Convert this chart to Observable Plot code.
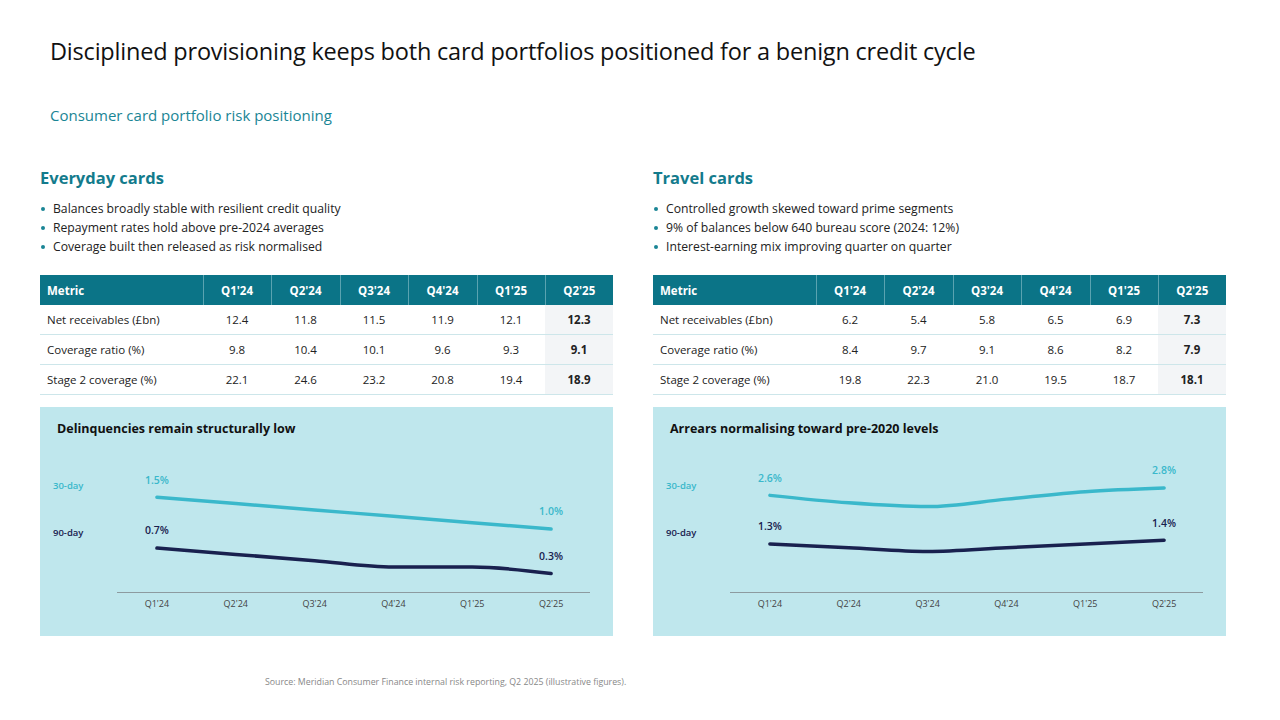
<!DOCTYPE html>
<html>
<head>
<meta charset="utf-8">
<script src="https://cdn.jsdelivr.net/npm/d3@7"></script>
<script src="https://cdn.jsdelivr.net/npm/@observablehq/plot@0.6"></script>
<style>
  html, body { margin: 0; padding: 0; background: #fff; }
  body { width: 1280px; height: 720px; position: relative; overflow: hidden; font-family: "Open Sans", "Noto Sans", sans-serif; color: #222; }
  .abs { position: absolute; }
  #title { left: 50px; top: 35px; font-size: 23.5px; color: #111; white-space: nowrap; letter-spacing: -0.2px; }
  #subtitle { left: 50px; top: 105px; font-size: 15px; color: #1a8595; white-space: nowrap; }
  .head { font-size: 16.5px; font-weight: 700; color: #137b8c; white-space: nowrap; }
  .bullets { font-size: 12.2px; line-height: 19px; white-space: nowrap; }
  .bullets div { position: relative; padding-left: 13px; }
  .bullets div::before { content: ""; position: absolute; left: 1px; top: 8px; width: 4px; height: 4px; border-radius: 50%; background: #1a8595; }
  table { border-collapse: collapse; table-layout: fixed; font-size: 11.5px; }
  th { background: #0b7487; color: #fff; font-weight: 700; height: 30px; padding: 0; text-align: center; border-left: 1px solid #5aa3b0; }
  th:first-child { text-align: left; padding-left: 7px; border-left: none; }
  td { height: 29px; padding: 0; text-align: center; border-bottom: 1px solid #cde6ea; }
  td:first-child { text-align: left; padding-left: 7px; }
  td.last { background: #f3f5f7; font-weight: 700; }
  .panel { background: #bfe7ed; width: 573px; height: 229px; }
  .panel svg { position: absolute; left: 0; top: 0; background: transparent; }
  .ptitle { left: 17px; top: 13px; font-size: 12.5px; font-weight: 700; color: #111; white-space: nowrap; }
  .slab { font-size: 9.5px; font-weight: 600; white-space: nowrap; }
  #source { left: 265px; top: 676px; font-size: 8.8px; color: #888; white-space: nowrap; }
</style>
</head>
<body>
<div id="title" class="abs">Disciplined provisioning keeps both card portfolios positioned for a benign credit cycle</div>
<div id="subtitle" class="abs">Consumer card portfolio risk positioning</div>
<div id="source" class="abs">Source: Meridian Consumer Finance internal risk reporting, Q2 2025 (illustrative figures).</div>
<script>
// ---- data ----
const quarters = ["Q1'24", "Q2'24", "Q3'24", "Q4'24", "Q1'25", "Q2'25"];
const metricNames = ["Net receivables (£bn)", "Coverage ratio (%)", "Stage 2 coverage (%)"];

const everydayTitle = "Everyday cards";
const everydayBullets = [
  "Balances broadly stable with resilient credit quality",
  "Repayment rates hold above pre-2024 averages",
  "Coverage built then released as risk normalised"
];
const everydayNetReceivables = ["12.4", "11.8", "11.5", "11.9", "12.1", "12.3"];
const everydayCoverage = ["9.8", "10.4", "10.1", "9.6", "9.3", "9.1"];
const everydayStage2 = ["22.1", "24.6", "23.2", "20.8", "19.4", "18.9"];
const everydayChartTitle = "Delinquencies remain structurally low";
const everyday30 = [1.5, 1.4, 1.3, 1.2, 1.1, 1.0];
const everyday90 = [0.7, 0.6, 0.5, 0.4, 0.4, 0.3];

const travelTitle = "Travel cards";
const travelBullets = [
  "Controlled growth skewed toward prime segments",
  "9% of balances below 640 bureau score (2024: 12%)",
  "Interest-earning mix improving quarter on quarter"
];
const travelNetReceivables = ["6.2", "5.4", "5.8", "6.5", "6.9", "7.3"];
const travelCoverage = ["8.4", "9.7", "9.1", "8.6", "8.2", "7.9"];
const travelStage2 = ["19.8", "22.3", "21.0", "19.5", "18.7", "18.1"];
const travelChartTitle = "Arrears normalising toward pre-2020 levels";
const travel30 = [2.6, 2.4, 2.3, 2.5, 2.7, 2.8];
const travel90 = [1.3, 1.2, 1.1, 1.2, 1.3, 1.4];

const seriesNames = ["30-day", "90-day"];
const seriesColors = ["#3ab8cb", "#19214f"];

// ---- build ----
function section(x, title, bullets, rows, chartTitle, s30, s90, ymax) {
  const h = document.createElement("div");
  h.className = "abs head"; h.style.left = x + "px"; h.style.top = "166px";
  h.textContent = title; document.body.appendChild(h);

  const b = document.createElement("div");
  b.className = "abs bullets"; b.style.left = x + "px"; b.style.top = "199px";
  bullets.forEach(t => { const d = document.createElement("div"); d.textContent = t; b.appendChild(d); });
  document.body.appendChild(b);

  const tbl = document.createElement("table");
  tbl.className = "abs"; tbl.style.left = x + "px"; tbl.style.top = "275px"; tbl.style.width = "573px";
  const cg = document.createElement("colgroup");
  [163, 68, 69, 68, 69, 68, 68].forEach(w => { const c = document.createElement("col"); c.style.width = w + "px"; cg.appendChild(c); });
  tbl.appendChild(cg);
  const hr = document.createElement("tr");
  ["Metric", ...quarters].forEach(t => { const th = document.createElement("th"); th.textContent = t; hr.appendChild(th); });
  tbl.appendChild(hr);
  rows.forEach((vals, i) => {
    const tr = document.createElement("tr");
    const td0 = document.createElement("td"); td0.textContent = metricNames[i]; tr.appendChild(td0);
    vals.forEach((v, j) => { const td = document.createElement("td"); td.textContent = v; if (j === vals.length - 1) td.className = "last"; tr.appendChild(td); });
    tbl.appendChild(tr);
  });
  document.body.appendChild(tbl);

  const panel = document.createElement("div");
  panel.className = "abs panel"; panel.style.left = x + "px"; panel.style.top = "407px";
  document.body.appendChild(panel);

  const data = [];
  quarters.forEach((q, i) => {
    data.push({q, v: s30[i], s: seriesNames[0], i});
    data.push({q, v: s90[i], s: seriesNames[1], i});
  });
  const ends = data.filter(d => d.i === 0 || d.i === quarters.length - 1);

  const plot = Plot.plot({
    width: 573, height: 229,
    marginLeft: 77, marginRight: 23, marginTop: 58, marginBottom: 44,
    style: {background: "transparent", fontFamily: "Open Sans, sans-serif"},
    x: {type: "point", domain: quarters, padding: 0.5, round: false, label: null},
    y: {domain: [0, ymax], axis: null},
    color: {domain: seriesNames, range: seriesColors},
    marks: [
      Plot.ruleY([0], {stroke: "#8d9ba0", strokeWidth: 1}),
      Plot.axisX({tickSize: 0, tickPadding: 8, fontSize: 9, color: "#444", label: null}),
      Plot.line(data, {x: "q", y: "v", z: "s", stroke: "s", strokeWidth: 3.5, curve: "monotone-x"}),
      Plot.text(ends, {x: "q", y: "v", fill: "s", text: d => d.v.toFixed(1) + "%", dy: -17, fontSize: 10.5, fontWeight: 600})
    ]
  });
  panel.appendChild(plot);

  const pt = document.createElement("div");
  pt.className = "abs ptitle"; pt.textContent = chartTitle; panel.appendChild(pt);
  [[seriesNames[0], seriesColors[0], 72], [seriesNames[1], seriesColors[1], 119]].forEach(([t, c, top]) => {
    const l = document.createElement("div");
    l.className = "abs slab"; l.style.left = "13px"; l.style.top = top + "px"; l.style.color = c;
    l.textContent = t; panel.appendChild(l);
  });
}

section(40, everydayTitle, everydayBullets, [everydayNetReceivables, everydayCoverage, everydayStage2], everydayChartTitle, everyday30, everyday90, 2.0);
section(653, travelTitle, travelBullets, [travelNetReceivables, travelCoverage, travelStage2], travelChartTitle, travel30, travel90, 3.4);
</script>
</body>
</html>
